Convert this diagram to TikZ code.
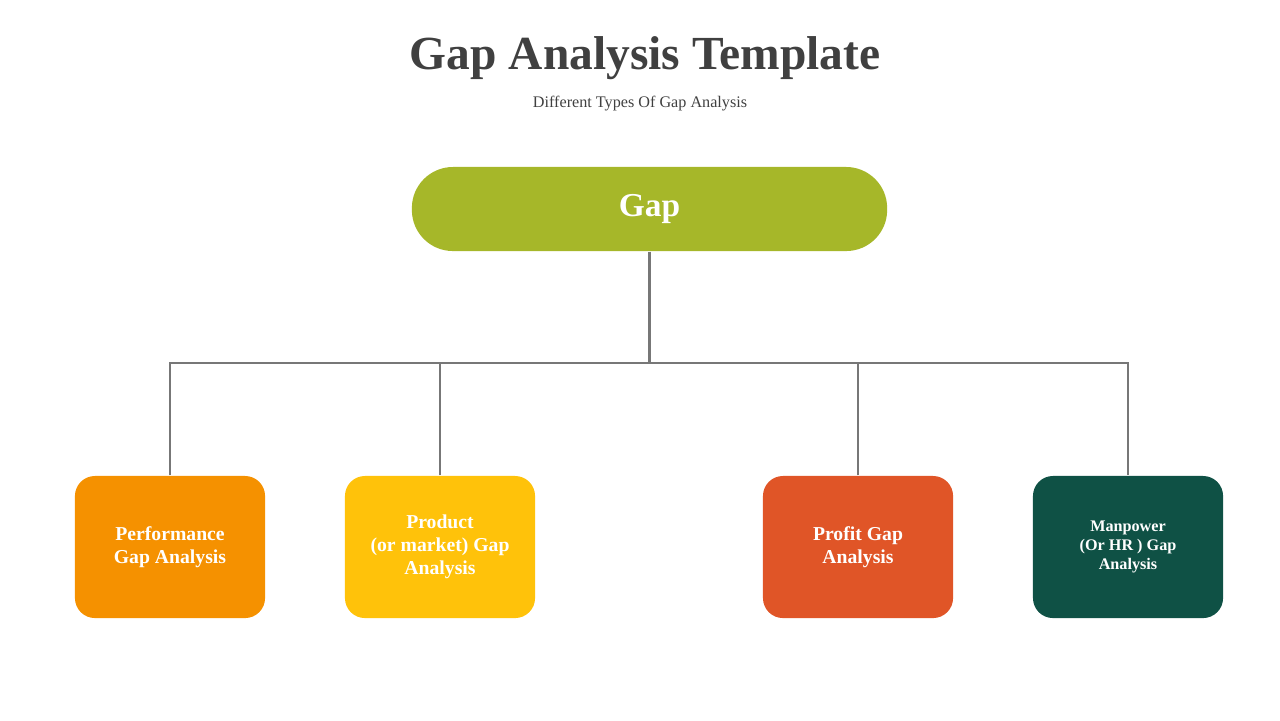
\documentclass[tikz,border=0pt]{standalone}
\usepackage{fontspec}
\setmainfont{Liberation Serif}
\usetikzlibrary{positioning}
\definecolor{gapgreen}{HTML}{A6B729}
\definecolor{perforange}{HTML}{F59100}
\definecolor{prodyellow}{HTML}{FFC20A}
\definecolor{profitred}{HTML}{E05527}
\definecolor{hrgreen}{HTML}{0F5145}
\definecolor{linegray}{HTML}{777777}
\definecolor{titlegray}{HTML}{404040}
\begin{document}
\begin{tikzpicture}[x=0.01cm,y=-0.01cm,
    gapbox/.style={fill=gapgreen, rounded corners=0.41cm, minimum width=4.75cm, minimum height=0.84cm, text=white, font=\bfseries\fontsize{9.5}{11}\selectfont},
    typebox/.style={rounded corners=0.2cm, minimum width=1.9cm, minimum height=1.42cm, text=white, align=center, font=\bfseries\fontsize{5.6}{6.6}\selectfont},
    link/.style={draw=linegray, line width=0.6pt}]
    \useasboundingbox (0,0) rectangle (1280,720);
    \node [text=titlegray, font=\bfseries\fontsize{13.5}{16}\selectfont] (title) at (645,58) {Gap Analysis Template};
    \node [text=titlegray, font=\fontsize{4.6}{5.5}\selectfont] (subtitle) at (640,104) {Different Types Of Gap Analysis};
    \node [gapbox] (gap) at (649.5,209) {Gap};
    \node [typebox, fill=perforange] (perf) at (170,547) {Performance\\Gap Analysis};
    \node [typebox, fill=prodyellow] (prod) at (440,547) {Product\\(or market) Gap\\Analysis};
    \node [typebox, fill=profitred] (profit) at (858,547) {Profit Gap\\Analysis};
    \node [typebox, fill=hrgreen, font=\bfseries\fontsize{4.6}{5.4}\selectfont] (hr) at (1128,547) {Manpower\\(Or HR ) Gap\\Analysis};
    \coordinate (bus) at (649.5,363);
    \draw [link] (gap) -- (bus);
    \draw [link] (perf.north) |- (bus) -| (hr.north);
    \draw [link] (prod.north) -- (prod.north |- bus);
    \draw [link] (profit.north) -- (profit.north |- bus);
\end{tikzpicture}
\end{document}
